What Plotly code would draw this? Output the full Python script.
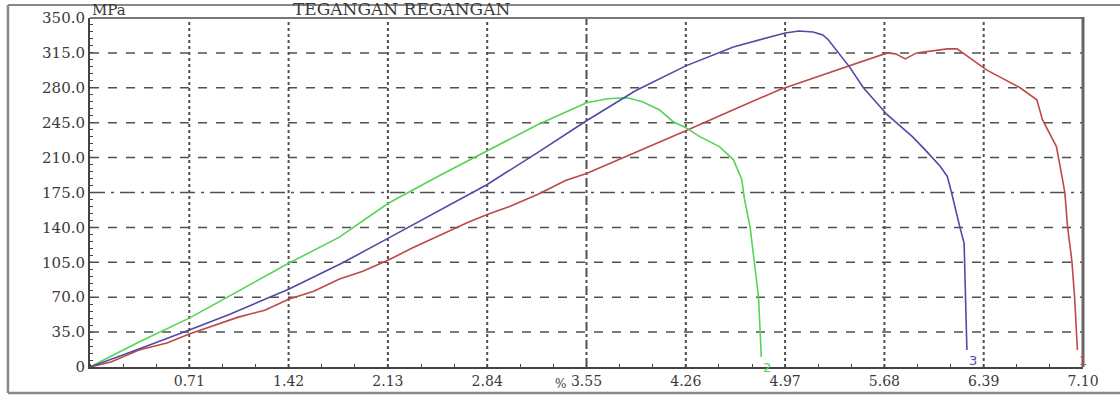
import plotly.graph_objects as go

# ---- data ----
x_ticks = [0.71, 1.42, 2.13, 2.84, 3.55, 4.26, 4.97, 5.68, 6.39, 7.10]
x_tick_text = ["0.71", "1.42", "2.13", "2.84", "3.55", "4.26", "4.97", "5.68", "6.39", "7.10"]
y_ticks = [0, 35, 70, 105, 140, 175, 210, 245, 280, 315, 350]
y_tick_text = ["0", "35.0", "70.0", "105.0", "140.0", "175.0", "210.0", "245.0", "280.0", "315.0", "350.0"]

# curve 1 (red)
x1 = [0, 0.15, 0.35, 0.55, 0.71, 0.9, 1.06, 1.25, 1.42, 1.6, 1.78, 1.95, 2.13, 2.3, 2.5, 2.7, 2.84,
      3.0, 3.2, 3.4, 3.55, 3.9, 4.26, 4.6, 4.93, 5.2, 5.41, 5.70, 5.76, 5.83, 5.91, 6.13, 6.20,
      6.41, 6.65, 6.77, 6.81, 6.91, 6.95, 6.97, 6.99, 7.02, 7.04, 7.06]
y1 = [0, 5, 17, 24, 33, 42, 50, 57, 68, 76, 88, 96, 107, 119, 132, 145, 153,
      161, 173, 187, 194, 215, 237, 258, 278, 291, 301, 315, 314, 309, 315, 319, 319,
      298, 280, 268, 248, 221, 191, 175, 140, 107, 70, 17]

# curve 2 (green)
x2 = [0, 0.35, 0.71, 1.06, 1.42, 1.78, 2.13, 2.5, 2.84, 3.2, 3.55, 3.7, 3.84, 3.95, 4.07, 4.17,
      4.26, 4.36, 4.5, 4.6, 4.66, 4.68, 4.72, 4.75, 4.78, 4.80]
y2 = [0, 25, 49, 76, 104, 130, 164, 192, 217, 243, 265, 269, 270, 266, 258, 246,
      240, 231, 221, 208, 188, 168, 140, 107, 70, 10]

# curve 3 (blue)
x3 = [0, 0.2, 0.35, 0.71, 1.0, 1.42, 1.8, 2.13, 2.5, 2.84, 3.2, 3.55, 3.9, 4.26, 4.6, 4.97,
      5.07, 5.17, 5.24, 5.28, 5.43, 5.53, 5.70, 5.88, 5.97, 6.08, 6.13, 6.16, 6.22, 6.25, 6.26, 6.27]
y3 = [0, 10, 18, 37, 53, 78, 104, 129, 157, 183, 215, 247, 277, 302, 321, 335,
      337, 336, 333, 328, 301, 280, 253, 231, 218, 201, 191, 175, 140, 124, 70, 17]

series = [
    ("1", x1, y1, "#c04848"),
    ("2", x2, y2, "#55d455"),
    ("3", x3, y3, "#4c4ca8"),
]

GRID = "#505050"
FONT = "DejaVu Serif"
TXT = "#3a3a3a"

fig = go.Figure()
for name, xs, ys, col in series:
    fig.add_trace(go.Scatter(x=xs, y=ys, mode="lines", name=name,
                             line=dict(color=col, width=1.6), showlegend=False))

shapes = []
# vertical grid (dotted), centre line dash-dot
for v in x_ticks[:-1]:
    shapes.append(dict(type="line", xref="x", yref="y", x0=v, x1=v, y0=0, y1=350,
                       line=dict(color=GRID, width=2, dash="dashdot" if v == 3.55 else "dot"),
                       layer="below"))
# horizontal grid (dashed), centre line dash-dot
for v in y_ticks[1:-1]:
    shapes.append(dict(type="line", xref="x", yref="y", x0=0, x1=7.10, y0=v, y1=v,
                       line=dict(color=GRID, width=1.5, dash="longdashdot" if v == 175 else "dash"),
                       layer="below"))
# plot top border and right border
shapes.append(dict(type="line", xref="paper", yref="paper", x0=0, x1=1, y0=1, y1=1,
                   line=dict(color="#777777", width=2)))
shapes.append(dict(type="line", xref="paper", yref="paper", x0=1, x1=1, y0=0, y1=1.003,
                   line=dict(color="#666666", width=3)))
# outer frame
shapes.append(dict(type="line", xref="paper", yref="paper", x0=-0.0826, x1=1.04, y0=1.037, y1=1.037,
                   line=dict(color="#888888", width=2)))
shapes.append(dict(type="line", xref="paper", yref="paper", x0=-0.0826, x1=-0.0826, y0=-0.0745, y1=1.037,
                   line=dict(color="#888888", width=2.5)))
shapes.append(dict(type="line", xref="paper", yref="paper", x0=-0.0826, x1=1.04, y0=-0.0745, y1=-0.0745,
                   line=dict(color="#888888", width=2.5)))

annotations = [
    dict(text="TEGANGAN REGANGAN", xref="paper", yref="paper", x=0.202, y=1.0, xanchor="left",
         yanchor="bottom", yshift=-3, showarrow=False, font=dict(family=FONT, size=17, color=TXT)),
    dict(text="MPa", xref="paper", yref="paper", x=0.0, y=1.0, xanchor="left",
         yanchor="bottom", yshift=-3, showarrow=False, font=dict(family=FONT, size=15, color=TXT)),
    dict(text="%", xref="x", yref="paper", x=3.55, y=0, xanchor="right",
         yanchor="bottom", xshift=-19, yshift=-26, showarrow=False, font=dict(family=FONT, size=12, color=TXT)),
]
for name, xs, ys, col in series:
    annotations.append(dict(text=name, xref="x", yref="y", x=xs[-1], y=ys[-1], xanchor="left",
                            yanchor="top", xshift=0, yshift=-1, showarrow=False,
                            font=dict(family="DejaVu Sans", size=13, color=col)))

fig.update_layout(
    width=1120, height=396,
    margin=dict(l=90, r=37, t=18, b=29),
    paper_bgcolor="white", plot_bgcolor="white",
    shapes=shapes, annotations=annotations,
    xaxis=dict(range=[0, 7.10], tickvals=x_ticks, ticktext=x_tick_text, showgrid=False,
               automargin=False,
               zeroline=False, showline=True, linecolor="#444444", linewidth=2,
               ticks="", tickfont=dict(family=FONT, size=14, color=TXT),
               minor=dict(dtick=0.71 / 3, tick0=0, ticks="inside", ticklen=3, tickcolor="#444444")),
    yaxis=dict(range=[0, 350], tickvals=y_ticks, ticktext=y_tick_text, showgrid=False,
               automargin=False,
               zeroline=False, showline=True, linecolor="#444444", linewidth=2,
               ticks="", tickfont=dict(family=FONT, size=15, color=TXT),
               minor=dict(dtick=7, tick0=0, ticks="inside", ticklen=3, tickcolor="#444444")),
)

fig.write_html("out.html", config={"displayModeBar": False},
               post_script="document.body.style.margin='0';document.body.style.overflow='hidden';")
